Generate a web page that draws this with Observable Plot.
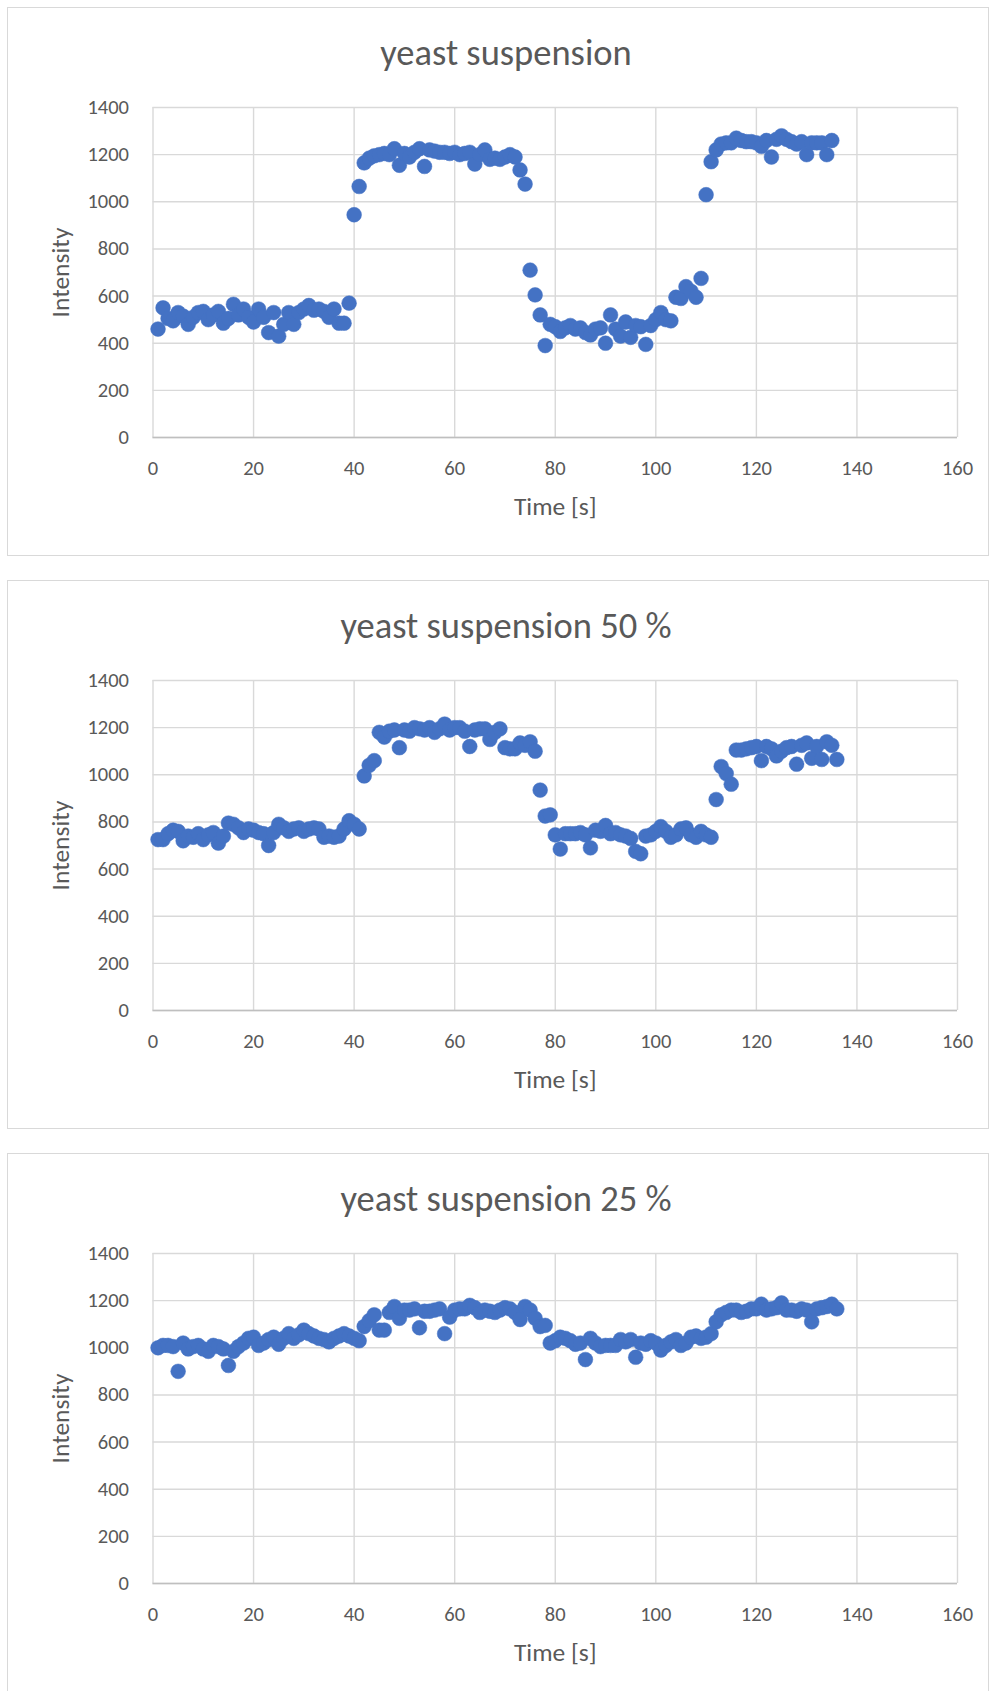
<!DOCTYPE html>
<html><head><meta charset="utf-8">
<script src="https://cdn.jsdelivr.net/npm/d3@7"></script>
<script src="https://cdn.jsdelivr.net/npm/@observablehq/plot@0.6"></script>
<style>
html,body{margin:0;padding:0;background:#fff;}
body{width:992px;height:1691px;position:relative;overflow:hidden;font-family:Carlito,Calibri,Lato,sans-serif;}
.frame{position:absolute;left:7px;width:982px;height:549px;border:1px solid #d9d9d9;box-sizing:border-box;}
.title{position:absolute;left:0;width:1012px;text-align:center;font-size:36.5px;color:#595959;line-height:1;white-space:nowrap;}
.chart{position:absolute;left:0;}
.chart g[aria-label="x-axis label"] text, .chart g[aria-label="y-axis label"] text{font-size:25.5px;}
</style></head><body>
<script>
// ---- data ----
const titles = ["yeast suspension", "yeast suspension 50 %", "yeast suspension 25 %"];
const xTicks = [0, 20, 40, 60, 80, 100, 120, 140, 160];
const yTicks = [0, 200, 400, 600, 800, 1000, 1200, 1400];
const xLabel = "Time [s]";
const yLabel = "Intensity";

const time1 = [1,2,3,4,5,6,7,8,9,10,11,12,13,14,15,16,17,18,19,20,21,22,23,24,25,26,27,28,29,30,31,32,33,34,35,36,37,38,39,40,41,42,43,44,45,46,47,48,49,50,51,52,53,54,55,56,57,58,59,60,61,62,63,64,65,66,67,68,69,70,71,72,73,74,75,76,77,78,79,80,81,82,83,84,85,86,87,88,89,90,91,92,93,94,95,96,97,98,99,100,101,102,103,104,105,106,107,108,109,110,111,112,113,114,115,116,117,118,119,120,121,122,123,124,125,126,127,128,129,130,131,132,133,134,135];
const intensity1 = [460,550,505,495,530,515,480,510,530,535,500,520,535,485,505,565,520,545,510,490,545,510,445,530,430,480,530,480,530,545,560,540,545,535,510,545,485,485,570,945,1065,1165,1185,1195,1200,1205,1200,1225,1155,1205,1190,1210,1225,1150,1220,1215,1210,1210,1205,1210,1200,1205,1210,1160,1200,1220,1180,1185,1180,1190,1200,1190,1135,1075,710,605,520,390,480,470,450,465,475,460,465,445,435,460,465,400,520,460,430,490,425,475,470,395,475,500,530,500,495,595,590,640,620,595,675,1030,1170,1220,1245,1250,1250,1270,1260,1255,1255,1250,1235,1260,1190,1265,1280,1265,1255,1245,1255,1200,1250,1250,1250,1200,1260];

const time2 = [1,2,3,4,5,6,7,8,9,10,11,12,13,14,15,16,17,18,19,20,21,22,23,24,25,26,27,28,29,30,31,32,33,34,35,36,37,38,39,40,41,42,43,44,45,46,47,48,49,50,51,52,53,54,55,56,57,58,59,60,61,62,63,64,65,66,67,68,69,70,71,72,73,74,75,76,77,78,79,80,81,82,83,84,85,86,87,88,89,90,91,92,93,94,95,96,97,98,99,100,101,102,103,104,105,106,107,108,109,110,111,112,113,114,115,116,117,118,119,120,121,122,123,124,125,126,127,128,129,130,131,132,133,134,135,136];
const intensity2 = [725,725,750,765,760,720,740,735,750,725,745,755,710,740,795,790,775,755,770,765,755,750,700,755,790,775,760,770,775,760,770,775,770,735,740,735,740,770,805,790,770,995,1040,1060,1180,1160,1185,1190,1115,1190,1185,1200,1195,1190,1200,1180,1195,1215,1190,1200,1200,1185,1120,1190,1195,1195,1150,1180,1195,1115,1110,1110,1135,1125,1140,1100,935,825,830,745,685,750,750,750,755,745,690,765,760,785,750,755,745,740,730,675,665,740,745,760,780,760,735,745,770,775,745,735,760,745,735,895,1035,1005,960,1105,1105,1110,1115,1120,1060,1120,1110,1080,1100,1115,1120,1045,1125,1135,1070,1120,1065,1140,1125,1065];

const time3 = [1,2,3,4,5,6,7,8,9,10,11,12,13,14,15,16,17,18,19,20,21,22,23,24,25,26,27,28,29,30,31,32,33,34,35,36,37,38,39,40,41,42,43,44,45,46,47,48,49,50,51,52,53,54,55,56,57,58,59,60,61,62,63,64,65,66,67,68,69,70,71,72,73,74,75,76,77,78,79,80,81,82,83,84,85,86,87,88,89,90,91,92,93,94,95,96,97,98,99,100,101,102,103,104,105,106,107,108,109,110,111,112,113,114,115,116,117,118,119,120,121,122,123,124,125,126,127,128,129,130,131,132,133,134,135,136];
const intensity3 = [1000,1010,1010,1005,900,1020,995,1005,1010,995,985,1010,1005,995,925,985,1005,1020,1040,1045,1010,1020,1035,1045,1015,1040,1060,1040,1055,1075,1060,1050,1040,1035,1025,1040,1050,1060,1050,1040,1030,1090,1115,1140,1075,1075,1150,1175,1125,1160,1160,1165,1085,1155,1155,1160,1165,1060,1130,1160,1165,1165,1180,1170,1150,1160,1155,1150,1160,1170,1165,1150,1120,1175,1160,1125,1090,1095,1020,1030,1045,1040,1030,1015,1020,950,1040,1020,1005,1010,1010,1010,1035,1025,1035,960,1020,1015,1030,1020,990,1010,1025,1035,1010,1020,1045,1050,1040,1045,1060,1110,1140,1150,1160,1160,1150,1155,1165,1165,1185,1160,1165,1170,1190,1160,1160,1155,1165,1160,1110,1165,1170,1175,1185,1165];

const panels = [
  {title: titles[0], time: time1, value: intensity1},
  {title: titles[1], time: time2, value: intensity2},
  {title: titles[2], time: time3, value: intensity3}
];

const FONT = "Carlito, Calibri, Lato, sans-serif";
const TEXT = "#595959";
const GRID = "#d9d9d9";
const BLUE = "#4472C4";
const STEP = 573;

panels.forEach((p, i) => {
  const top = 7 + STEP * i;
  const frame = document.createElement("div");
  frame.className = "frame";
  frame.style.top = top + "px";
  document.body.appendChild(frame);

  const t = document.createElement("div");
  t.className = "title";
  t.style.top = (top + 28) + "px";
  t.textContent = p.title;
  document.body.appendChild(t);

  const data = p.time.map((x, k) => ({time: x, intensity: p.value[k]}));

  const svg = Plot.plot({
    width: 992,
    height: 460,
    marginTop: 27,
    marginBottom: 103,
    marginLeft: 152.5,
    marginRight: 35,
    style: {fontFamily: FONT, fontSize: "20.5px", color: TEXT, background: "transparent", overflow: "visible"},
    x: {domain: [0, 160], ticks: xTicks},
    y: {domain: [0, 1400], ticks: yTicks},
    marks: [
      Plot.gridX(xTicks, {stroke: GRID, strokeOpacity: 1, strokeWidth: 1.4}),
      Plot.gridY(yTicks, {stroke: GRID, strokeOpacity: 1, strokeWidth: 1.4}),
      Plot.ruleY([0], {stroke: "#bfbfbf", strokeWidth: 1.4}),
      Plot.axisX(xTicks, {tickSize: 0, tickPadding: 23, tickFormat: d => String(d), label: xLabel, labelAnchor: "center", labelOffset: 77, labelArrow: false, fill: TEXT}),
      Plot.axisY(yTicks, {tickSize: 0, tickPadding: 24, tickFormat: d => String(d), label: yLabel, labelAnchor: "center", labelOffset: 102, labelArrow: false, fill: TEXT}),
      Plot.dot(data, {x: "time", y: "intensity", r: 7.4, fill: BLUE, stroke: BLUE, strokeWidth: 0.5})
    ]
  });
  svg.classList.add("chart");
  svg.style.position = "absolute";
  svg.style.left = "0px";
  svg.style.top = (top + 73) + "px";
  document.body.appendChild(svg);
});
</script>
</body></html>
